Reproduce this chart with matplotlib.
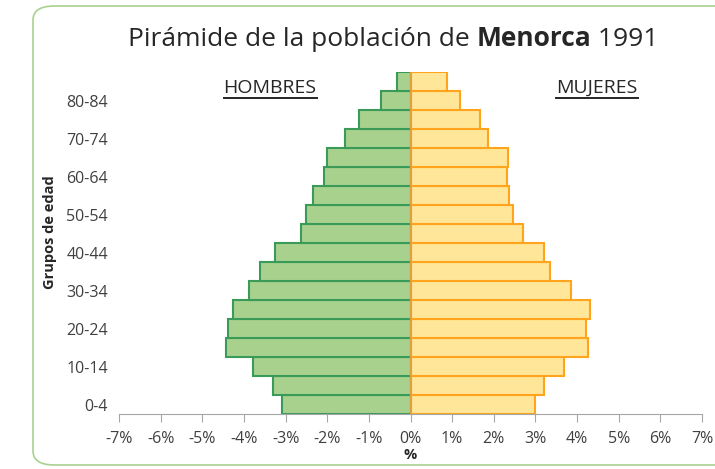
import matplotlib
matplotlib.use('Agg')
import matplotlib.pyplot as plt
from matplotlib.patches import FancyBboxPatch
from matplotlib.lines import Line2D

plt.rcParams['font.family'] = ['Open Sans', 'DejaVu Sans']

# grupos de edad, de abajo hacia arriba
grupos = ['0-4', '5-9', '10-14', '15-19', '20-24', '25-29', '30-34', '35-39',
          '40-44', '45-49', '50-54', '55-59', '60-64', '65-69', '70-74',
          '75-79', '80-84', '85+']
# % de la poblacion total
hombres = [3.09, 3.31, 3.78, 4.43, 4.39, 4.27, 3.87, 3.61, 3.25, 2.63,
           2.50, 2.33, 2.08, 2.00, 1.58, 1.24, 0.70, 0.32]
mujeres = [2.98, 3.21, 3.69, 4.27, 4.21, 4.32, 3.86, 3.35, 3.21, 2.69,
           2.46, 2.37, 2.31, 2.33, 1.86, 1.68, 1.18, 0.87]
xticks = [-7, -6, -5, -4, -3, -2, -1, 0, 1, 2, 3, 4, 5, 6, 7]

W, H = 715, 469
fig = plt.figure(figsize=(W / 100, H / 100), dpi=100)

# marco verde redondeado
frame = FancyBboxPatch((33 / W, 4 / H), 720 / W, 459 / H,
                       boxstyle='round,pad=0,rounding_size=0.03',
                       transform=fig.transFigure, facecolor='none',
                       edgecolor='#A9D18E', linewidth=1.2, zorder=-1)
fig.patches.append(frame)

ax = fig.add_axes([119 / W, (H - 414) / H, 583 / W, 342 / H])
ax.set_facecolor('none')

y = list(range(len(grupos)))
ax.barh(y, [-v for v in hombres], height=1.0, color='#A9D18E',
        edgecolor='#3A9A58', linewidth=1.5)
ax.barh(y, mujeres, height=1.0, color='#FFE699',
        edgecolor='#FFA41C', linewidth=1.5)

ax.set_xlim(-7, 7)
ax.set_ylim(-0.5, len(grupos) - 0.5)
ax.set_xticks(xticks)
ax.set_xticklabels([f'{t}%' for t in xticks], fontsize=11.5, color='#404040')
ax.set_yticks(y[::2])
ax.set_yticklabels(grupos[::2], fontsize=11.5, color='#404040')
ax.tick_params(axis='y', length=0, pad=8)
ax.tick_params(axis='x', length=6, color='#A6A6A6', pad=6)
for s in ['top', 'right', 'left']:
    ax.spines[s].set_visible(False)
ax.spines['bottom'].set_color('#A6A6A6')
ax.axvline(0, color='#E0A040', linewidth=1.5, zorder=3)

ax.set_xlabel('%', fontsize=10.5, fontweight='bold', color='#262626', labelpad=1)
fig.text(50 / W, 1 - 232 / H, 'Grupos de edad', rotation=90, fontsize=10.5,
         fontweight='bold', color='#262626', ha='center', va='center')

# titulo con "Menorca" en negrita
base = 1 - 46 / H
t1 = fig.text(128 / W, base, 'Pirámide de la población de ', fontsize=19,
              color='#262626', va='baseline', ha='left')
t2 = fig.text(0, base, 'Menorca', fontsize=19, fontweight='bold',
              color='#262626', va='baseline', ha='left')
t3 = fig.text(0, base, ' 1991', fontsize=19, color='#262626',
              va='baseline', ha='left')

# HOMBRES / MUJERES subrayados
lab_h = fig.text(270 / W, 1 - 88 / H, 'HOMBRES', fontsize=14, color='#262626',
                 ha='center', va='center')
lab_m = fig.text(597 / W, 1 - 88 / H, 'MUJERES', fontsize=14, color='#262626',
                 ha='center', va='center')
fig.canvas.draw()
r = fig.canvas.get_renderer()

b1 = t1.get_window_extent(r)
t2.set_position((b1.x1 / W, base))
fig.canvas.draw()
b2 = t2.get_window_extent(r)
t3.set_position((b2.x1 / W, base))

for lab in (lab_h, lab_m):
    bb = lab.get_window_extent(r)
    yy = (bb.y0 - 1) / H
    fig.add_artist(Line2D([bb.x0 / W, bb.x1 / W], [yy, yy],
                          transform=fig.transFigure, color='#262626', lw=1.4))

fig.savefig('out.png', dpi=100)
